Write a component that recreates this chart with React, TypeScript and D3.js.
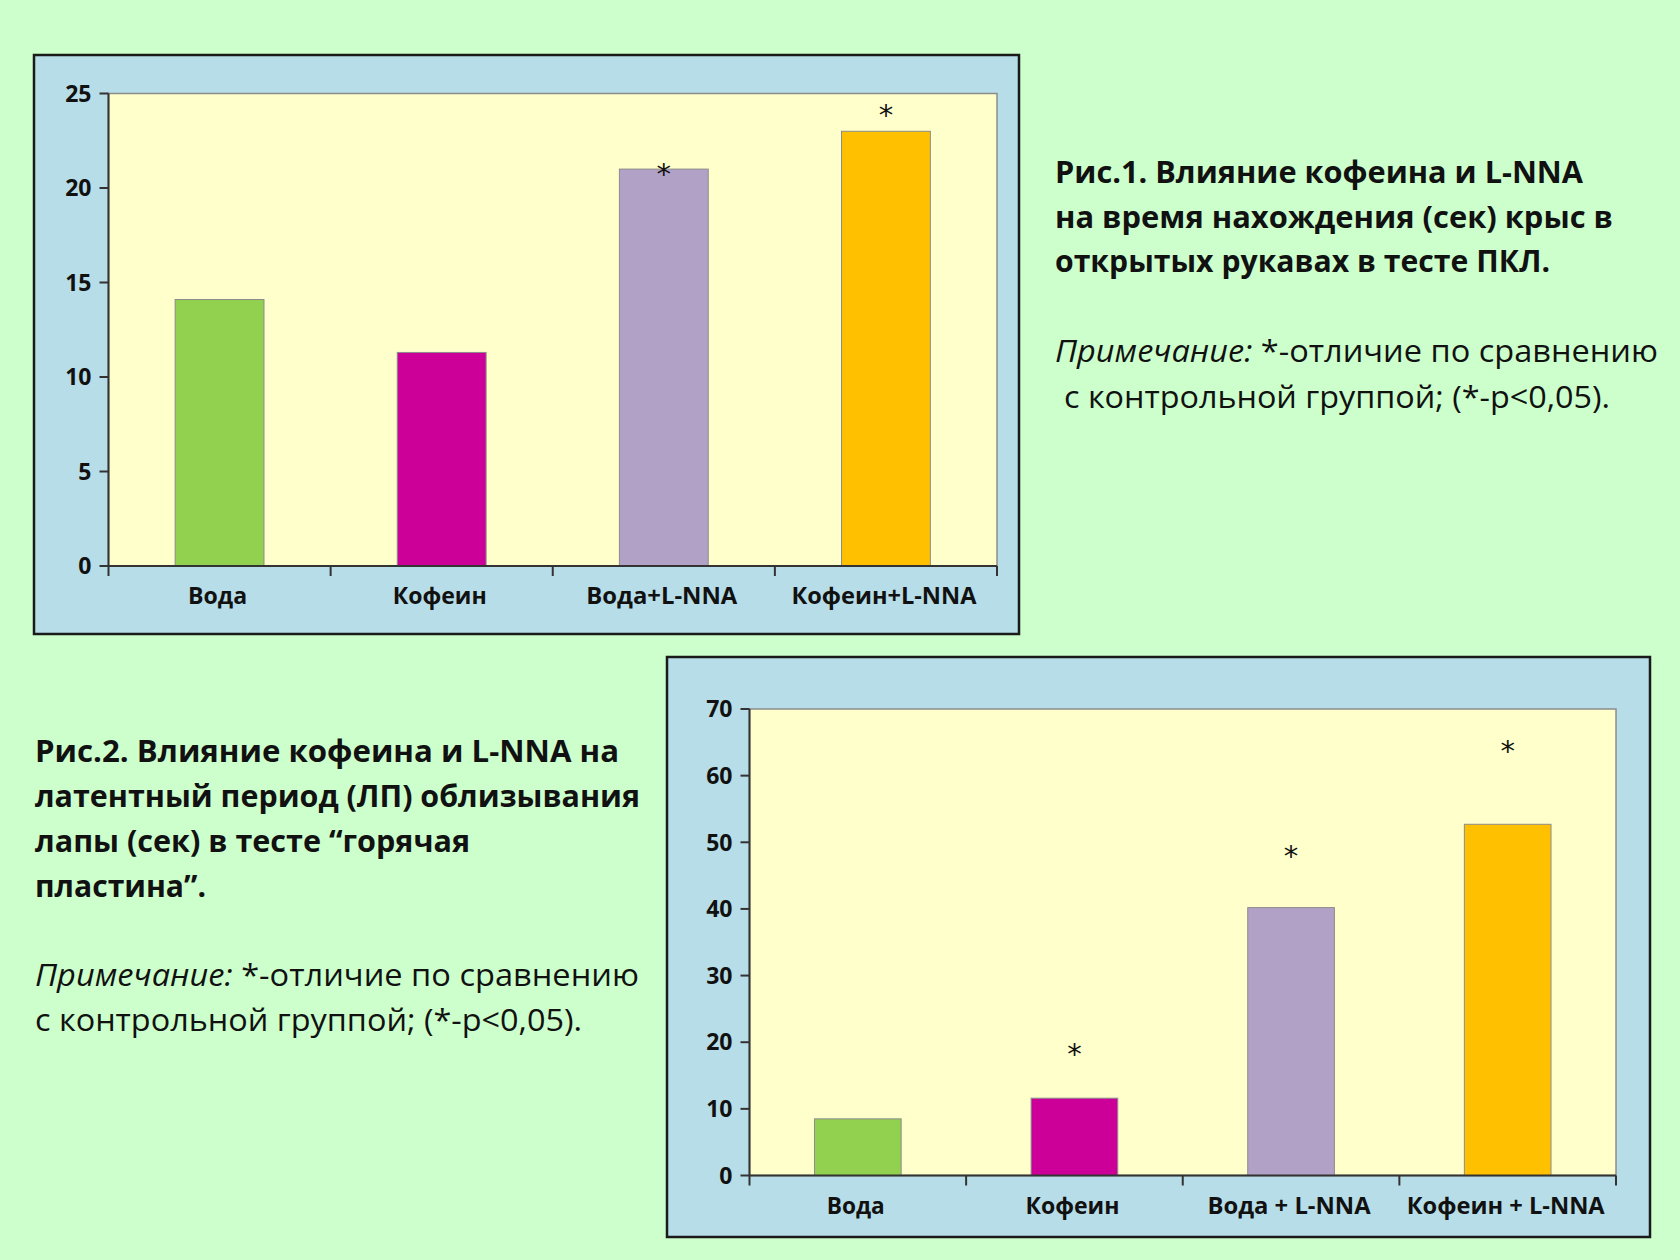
import React, { useEffect } from "react";
import * as d3 from "d3";

// ---- data ----
const categories1 = ["Вода", "Кофеин", "Вода+L-NNA", "Кофеин+L-NNA"];
const values1 = [14.1, 11.3, 21.0, 23.0];
const stars1: (number | null)[] = [null, null, 20.95, 24.05];
const yTicks1 = [0, 5, 10, 15, 20, 25];

const categories2 = ["Вода", "Кофеин", "Вода + L-NNA", "Кофеин + L-NNA"];
const values2 = [8.5, 11.6, 40.2, 52.7];
const stars2: (number | null)[] = [null, 18.8, 48.6, 64.3];
const yTicks2 = [0, 10, 20, 30, 40, 50, 60, 70];

const barColors = ["#92D050", "#CC0099", "#B2A1C7", "#FFC000"];

const title1 = [
  "Рис.1. Влияние кофеина и L-NNA",
  "на время нахождения (сек) крыс в",
  "открытых рукавах в тесте ПКЛ.",
];
const title2 = [
  "Рис.2.  Влияние кофеина и L-NNA на",
  "латентный период (ЛП) облизывания",
  "лапы (сек) в тесте “горячая",
  "пластина”.",
];
const noteItalic = "Примечание:";
const noteRest1 = " *-отличие по сравнению";
const noteLine2 = "с контрольной группой; (*-p<0,05).";

const FONT = "'Open Sans', 'Noto Sans', sans-serif";

type ChartProps = {
  panel: { x: number; y: number; w: number; h: number };
  plot: { x0: number; x1: number; y0: number; y1: number };
  cats: string[];
  vals: number[];
  stars: (number | null)[];
  ticks: number[];
  labelWidths: number[];
  labelBaseline: number;
};

function BarChart({ panel, plot, cats, vals, stars, ticks, labelWidths, labelBaseline }: ChartProps) {
  const x = d3.scaleBand<string>().domain(cats).range([plot.x0, plot.x1]).paddingInner(0.6).paddingOuter(0.3);
  const xb = d3.scaleBand<string>().domain(cats).range([plot.x0, plot.x1]);
  const y = d3.scaleLinear().domain([0, ticks[ticks.length - 1]]).range([plot.y1, plot.y0]);
  return (
    <g>
      <rect x={panel.x} y={panel.y} width={panel.w} height={panel.h} fill="#B7DDE8" stroke="#1a1a1a" strokeWidth={2.5} />
      <rect x={plot.x0} y={plot.y0} width={plot.x1 - plot.x0} height={plot.y1 - plot.y0} fill="#FFFFCC" stroke="#8C8C8C" strokeWidth={1.5} />
      {cats.map((c, i) => (
        <rect key={c} x={x(c)} y={y(vals[i])} width={x.bandwidth()} height={y(0) - y(vals[i])}
          fill={barColors[i]} stroke="#8C8C8C" strokeWidth={1} />
      ))}
      {/* axes */}
      <line x1={plot.x0} x2={plot.x0} y1={plot.y0} y2={plot.y1 + 10} stroke="#333" strokeWidth={2} />
      <line x1={plot.x0} x2={plot.x1} y1={plot.y1} y2={plot.y1} stroke="#333" strokeWidth={2} />
      {ticks.map((t) => (
        <g key={t}>
          <line x1={plot.x0 - 9} x2={plot.x0} y1={y(t)} y2={y(t)} stroke="#333" strokeWidth={2} />
          <text x={plot.x0 - 17} y={y(t)} dy="0.36em" textAnchor="end" fontFamily={FONT} fontWeight={700} fontSize={23} fill="#111">{t}</text>
        </g>
      ))}
      {cats.map((c) => (
        <line key={"tk" + c} x1={(xb(c) as number) + xb.bandwidth()} x2={(xb(c) as number) + xb.bandwidth()}
          y1={plot.y1} y2={plot.y1 + 10} stroke="#333" strokeWidth={2} />
      ))}
      {cats.map((c, i) => (
        <text key={"lb" + c} x={(xb(c) as number) + xb.bandwidth() / 2 - 2} y={labelBaseline} textAnchor="middle"
          fontFamily={FONT} fontWeight={700} fontSize={24} fill="#111"
          textLength={labelWidths[i]} lengthAdjust="spacingAndGlyphs">{c}</text>
      ))}
      {stars.map((s, i) => s === null ? null : (
        <text key={"st" + i} x={(x(cats[i]) as number) + x.bandwidth() / 2} y={y(s)} dy="0.48em" textAnchor="middle"
          fontFamily="'DejaVu Sans', sans-serif" fontSize={29} fill="#111">*</text>
      ))}
    </g>
  );
}

function TextBlock({ x, lines, baselines, widths, noteX2, noteBase, noteWidths }: any) {
  return (
    <g fontFamily={FONT} fill="#111">
      {lines.map((l: string, i: number) => (
        <text key={i} x={x} y={baselines[i]} fontWeight={700} fontSize={31}
          textLength={widths[i]} lengthAdjust="spacingAndGlyphs">{l}</text>
      ))}
      <text x={x} y={noteBase[0]} fontSize={31} textLength={noteWidths[0]} lengthAdjust="spacingAndGlyphs">
        <tspan fontStyle="italic">{noteItalic}</tspan>
        <tspan>{noteRest1}</tspan>
      </text>
      <text x={noteX2} y={noteBase[1]} fontSize={31} textLength={noteWidths[1]} lengthAdjust="spacingAndGlyphs">{noteLine2}</text>
    </g>
  );
}

export default function App() {
  useEffect(() => {
    document.body.style.margin = "0";
    document.body.style.background = "#CCFFCC";
  }, []);
  return (
    <svg width={1680} height={1260} style={{ position: "absolute", left: 0, top: 0, display: "block" }}>
      <rect x={0} y={0} width={1680} height={1260} fill="#CCFFCC" />
      <BarChart
        panel={{ x: 34, y: 55, w: 985, h: 579 }}
        plot={{ x0: 108.5, x1: 997, y0: 93.5, y1: 566 }}
        cats={categories1} vals={values1} stars={stars1} ticks={yTicks1}
        labelWidths={[59, 94, 151, 185]} labelBaseline={604}
      />
      <BarChart
        panel={{ x: 667, y: 657, w: 983, h: 580 }}
        plot={{ x0: 749.5, x1: 1616, y0: 709, y1: 1175.5 }}
        cats={categories2} vals={values2} stars={stars2} ticks={yTicks2}
        labelWidths={[58, 94, 163, 198]} labelBaseline={1214}
      />
      <TextBlock x={1055} lines={title1} baselines={[183, 228, 272]} widths={[528, 558, 495]}
        noteX2={1064} noteBase={[362, 408]} noteWidths={[603, 546]} />
      <TextBlock x={35} lines={title2} baselines={[762, 807, 852, 897]} widths={[584, 605, 435, 171]}
        noteX2={35} noteBase={[986, 1031]} noteWidths={[604, 547]} />
    </svg>
  );
}
